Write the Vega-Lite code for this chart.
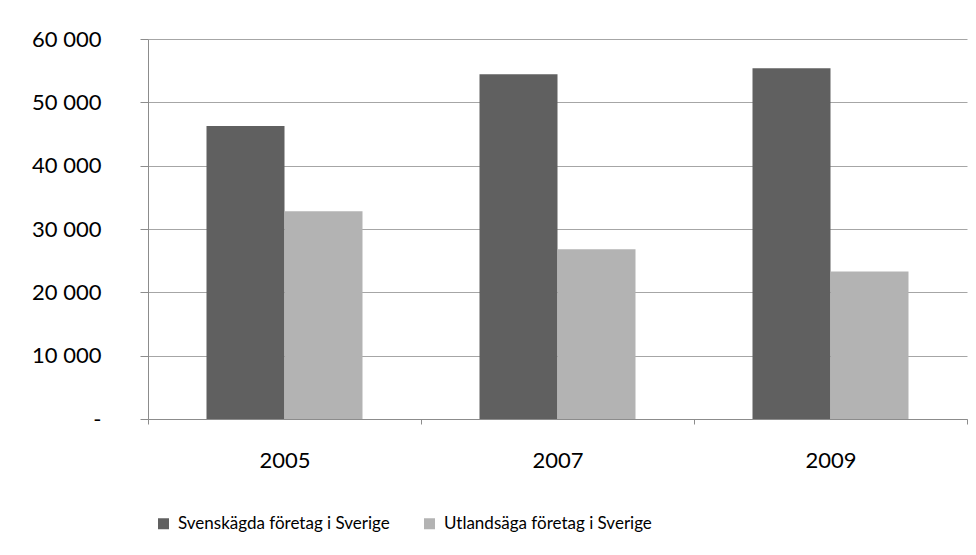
{
  "$schema": "https://vega.github.io/schema/vega-lite/v6.json",
  "width": 819,
  "height": 380,
  "autosize": {"type": "none"},
  "padding": {"left": 148, "top": 39, "right": 9, "bottom": 136},
  "background": "white",
  "data": {
    "values": [
      {"year": "2005", "series": "Svenskägda företag i Sverige", "value": 46250},
      {"year": "2005", "series": "Utlandsäga företag i Sverige", "value": 32800},
      {"year": "2007", "series": "Svenskägda företag i Sverige", "value": 54450},
      {"year": "2007", "series": "Utlandsäga företag i Sverige", "value": 26800},
      {"year": "2009", "series": "Svenskägda företag i Sverige", "value": 55400},
      {"year": "2009", "series": "Utlandsäga företag i Sverige", "value": 23300}
    ]
  },
  "mark": {"type": "bar"},
  "encoding": {
    "x": {
      "field": "year",
      "type": "nominal",
      "scale": {"paddingInner": 0, "paddingOuter": 0},
      "axis": {
        "title": null,
        "labelAngle": 0,
        "tickBand": "extent",
        "tickSize": 5,
        "labelPadding": 26,
        "labelBaseline": "top",
        "grid": false
      }
    },
    "xOffset": {
      "field": "series",
      "type": "nominal",
      "sort": ["Svenskägda företag i Sverige", "Utlandsäga företag i Sverige"],
      "scale": {"paddingInner": 0, "paddingOuter": 0.75}
    },
    "y": {
      "field": "value",
      "type": "quantitative",
      "scale": {"domain": [0, 60000], "nice": false},
      "axis": {
        "title": null,
        "values": [0, 10000, 20000, 30000, 40000, 50000, 60000],
        "labelExpr": "datum.value == 0 ? '-\u00a0\u00a0\u00a0' : replace(format(datum.value, ','), ',', ' ')",
        "tickSize": 8,
        "labelPadding": 39,
        "grid": true,
        "gridColor": "#a6a6a6",
        "gridWidth": 1
      }
    },
    "color": {
      "field": "series",
      "type": "nominal",
      "scale": {
        "domain": ["Svenskägda företag i Sverige", "Utlandsäga företag i Sverige"],
        "range": ["#606060", "#b3b3b3"]
      },
      "legend": {
        "orient": "none",
        "legendX": 7,
        "legendY": 476,
        "direction": "horizontal",
        "title": null,
        "symbolType": "square",
        "symbolSize": 121,
        "symbolStrokeWidth": 0,
        "labelFontSize": 17,
        "labelFont": "Lato",
        "labelColor": "#000000",
        "labelLimit": 500,
        "columnPadding": 31,
        "labelOffset": 6
      }
    }
  },
  "config": {
    "view": {"stroke": null},
    "axis": {
      "labelFont": "Lato",
      "labelFontSize": 22,
      "labelColor": "#000000",
      "domainColor": "#8c8c8c",
      "tickColor": "#8c8c8c",
      "domainWidth": 1,
      "tickWidth": 1
    }
  }
}
